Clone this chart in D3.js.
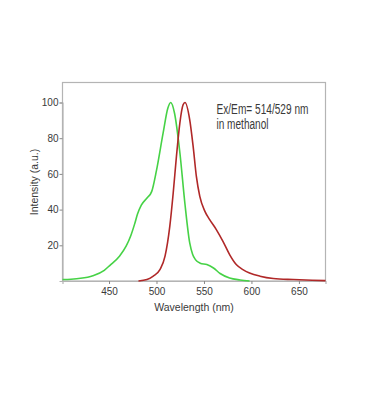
<!DOCTYPE html>
<html>
<head>
<meta charset="utf-8">
<script src="https://cdn.jsdelivr.net/npm/d3@7"></script>
<style>
  body { margin: 0; background: #fff; }
  text { font-family: "Liberation Sans", Arial, sans-serif; fill: #3a3a3a; }
</style>
</head>
<body>
<div id="chart"></div>
<script>
// Spectra: [wavelength nm, intensity a.u.]
var excitation = [
  [401, 0.8], [410, 1], [420, 1.5], [433, 3], [445, 6], [451, 8.8], [461, 13.9],
  [468, 19.5], [473, 25.5], [477, 32], [480, 37.5], [484, 42.5], [490, 46.5],
  [495, 50.2], [500, 62], [507, 83], [512, 96.9], [515, 100], [519, 94],
  [524.6, 72], [530, 43], [535, 21.3], [538, 15], [541, 12], [546, 10],
  [553, 9.2], [560, 7.3], [567, 4.2], [577, 1.7], [588, 0.6], [598, 0]
];
var emission = [
  [481, 0], [490, 0.8], [496.6, 2.7], [503.6, 6.4], [509, 13.9], [514, 30.6],
  [517.6, 49.3], [521, 69.8], [524.6, 88.5], [528, 98.7], [530, 100], [535, 90.3],
  [538.6, 75.4], [542, 58.6], [545.6, 47.4], [551, 39], [556, 34.4], [563, 28.8],
  [570, 22.2], [577, 14.8], [584, 9.2], [591, 6.4], [598, 4.5], [609, 2.7],
  [623, 1.4], [644, 0.8], [664, 0.4], [678, 0.2]
];
var xTicks = [450, 500, 550, 600, 650];
var yTicks = [20, 40, 60, 80, 100];
var xDomain = [401, 678];
var noteLines = ["Ex/Em= 514/529 nm", "in methanol"];

var width = 370, height = 416;
var plot = {left: 62.5, right: 325.5, top: 82.5, bottom: 281};

var svg = d3.select("#chart").append("svg")
    .attr("width", width)
    .attr("height", height);

var x = d3.scaleLinear().domain(xDomain).range([plot.left, plot.right]);
var y = d3.scaleLinear().domain([0, 100]).range([plot.bottom, 102.5]);

// frame
svg.append("rect")
    .attr("x", plot.left)
    .attr("y", plot.top)
    .attr("width", plot.right - plot.left)
    .attr("height", plot.bottom - plot.top)
    .attr("fill", "none")
    .attr("stroke", "#b4b4b4")
    .attr("stroke-width", 1.2);

// axes
var xAxis = svg.append("g")
    .attr("transform", "translate(0," + plot.bottom + ")")
    .call(d3.axisBottom(x).tickValues(xTicks).tickSize(3).tickPadding(4));
var yAxis = svg.append("g")
    .attr("transform", "translate(" + plot.left + ",0)")
    .call(d3.axisLeft(y).tickValues(yTicks).tickSize(3).tickPadding(1));

[xAxis, yAxis].forEach(function(g) {
  g.select(".domain").attr("stroke", "#b4b4b4").attr("stroke-width", 1.2);
  g.selectAll(".tick line").attr("stroke", "#888");
  g.selectAll(".tick text")
    .attr("font-size", 10)
    .attr("fill", "#3a3a3a")
    .style("font-family", "'Liberation Sans', Arial, sans-serif");
});

// curves
var line = d3.line()
    .x(function(d) { return x(d[0]); })
    .y(function(d) { return y(d[1]); })
    .curve(d3.curveMonotoneX);

svg.append("path")
    .datum(excitation)
    .attr("d", line)
    .attr("fill", "none")
    .attr("stroke", "#46d246")
    .attr("stroke-width", 1.6);

svg.append("path")
    .datum(emission)
    .attr("d", line)
    .attr("fill", "none")
    .attr("stroke", "#b02828")
    .attr("stroke-width", 1.6);

// axis titles
svg.append("text")
    .attr("x", 194)
    .attr("y", 311)
    .attr("text-anchor", "middle")
    .attr("font-size", 10.5)
    .text("Wavelength (nm)");

svg.append("text")
    .attr("transform", "translate(38,182) rotate(-90)")
    .attr("text-anchor", "middle")
    .attr("font-size", 10.5)
    .text("Intensity (a.u.)");

// annotation
svg.selectAll(".note")
    .data(noteLines)
    .enter()
  .append("text")
    .attr("class", "note")
    .attr("x", 216.5)
    .attr("y", function(d, i) { return 114 + i * 14.5; })
    .attr("font-size", 14)
    .attr("textLength", function(d, i) { return i === 0 ? 92 : 52; })
    .attr("lengthAdjust", "spacingAndGlyphs")
    .attr("fill", "#222")
    .text(function(d) { return d; });
</script>
</body>
</html>
